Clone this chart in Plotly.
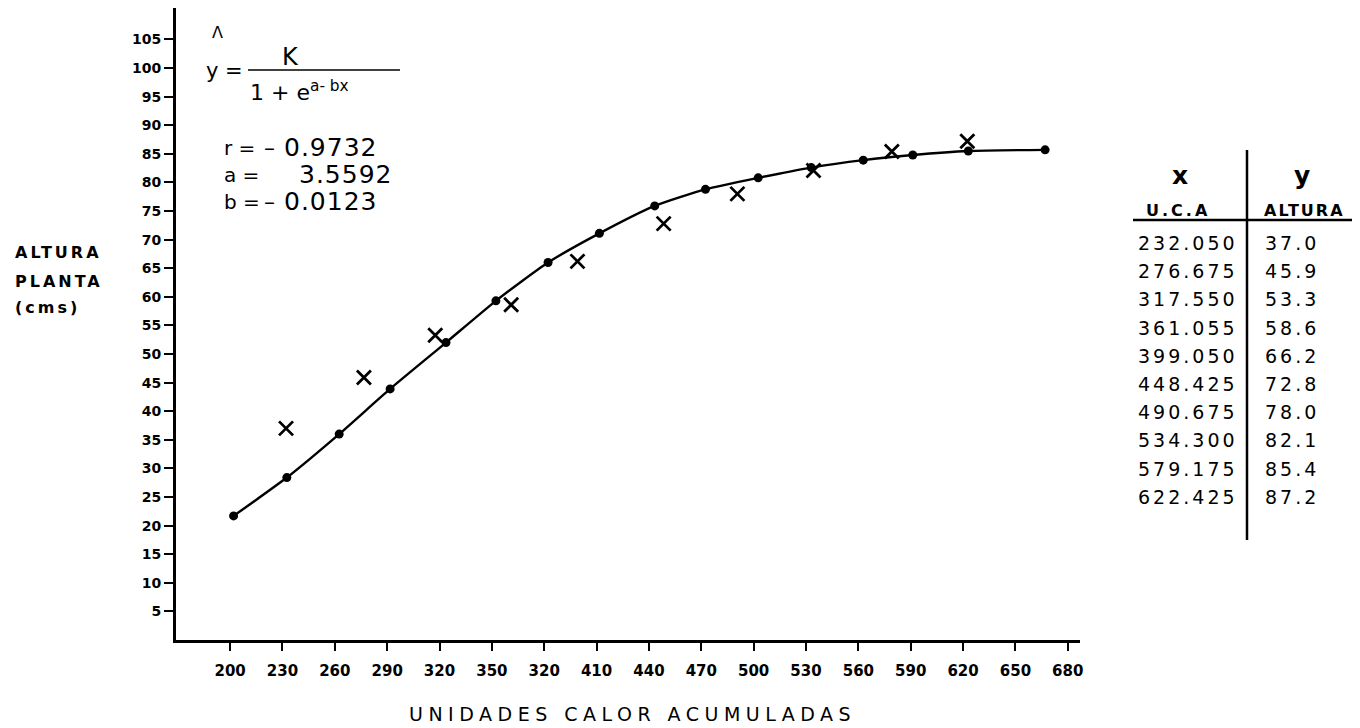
import plotly.graph_objects as go

# ---------------- data ----------------
# fitted logistic curve (dots on the line)
fit_x = [202.0, 232.5, 262.5, 291.7, 323.7, 352.3, 382.2, 411.6, 443.3, 472.4,
         502.6, 533.0, 562.8, 591.2, 623.0, 667.0]
fit_y = [21.7, 28.4, 36.0, 43.9, 52.0, 59.3, 66.0, 71.1, 75.9, 78.8,
         80.8, 82.6, 83.9, 84.8, 85.5, 85.7]

# observed values (crosses) = table at right
uca = [232.050, 276.675, 317.550, 361.055, 399.050, 448.425, 490.675, 534.300, 579.175, 622.425]
altura = [37.0, 45.9, 53.3, 58.6, 66.2, 72.8, 78.0, 82.1, 85.4, 87.2]

x_tickvals = [200, 230, 260, 290, 320, 350, 380, 410, 440, 470, 500, 530, 560, 590, 620, 650, 680]
x_ticktext = ["200", "230", "260", "290", "320", "350", "320", "410", "440", "470",
              "500", "530", "560", "590", "620", "650", "680"]
y_tickvals = [5, 10, 15, 20, 25, 30, 35, 40, 45, 50, 55, 60, 65, 70, 75, 80, 85, 90, 95, 100, 105]

stats_labels = ["r =", "a =", "b ="]
stats_signs = ["–", "", "–"]
stats_values = ["0.9732", "3.5592", "0.0123"]

# ---------------- layout helpers (screen pixels; page body has 8px margin) ----------------
OFF = 8
W, H = 1352, 720
L, R, T, B = 168, 280, 0, 88
PW, PH = W - L - R, H - T - B
FONT = "DejaVu Sans"


def fx(px):
    return (px - OFF - L) / PW


def fy(py):
    return (H - B - (py - OFF)) / PH


def sp(text, ls):
    return f'<span style="letter-spacing:{ls}px">{text}</span>'


fig = go.Figure()

fig.add_trace(go.Scatter(
    x=fit_x, y=fit_y, mode="lines+markers",
    line=dict(color="black", width=2.4, shape="spline", smoothing=0.6),
    marker=dict(color="black", size=9, symbol="circle"),
    showlegend=False, hoverinfo="skip"))

fig.add_trace(go.Scatter(
    x=uca, y=altura, mode="markers",
    marker=dict(symbol="x-thin", size=14, line=dict(color="black", width=2.8)),
    showlegend=False))

ann = []
shapes = []

# formula
ann.append(dict(text="Λ", x=fx(217), y=fy(33), font=dict(size=16)))
ann.append(dict(text="y =", x=fx(224), y=fy(71), font=dict(size=21)))
ann.append(dict(text="K", x=fx(290), y=fy(57), font=dict(size=24)))
ann.append(dict(text="1 + e<sup>a- bx</sup>", x=fx(248), y=fy(91), xanchor="left",
                font=dict(size=22)))
shapes.append(dict(type="line", xref="paper", yref="paper", x0=fx(248), x1=fx(400),
                   y0=fy(70), y1=fy(70), line=dict(color="black", width=1.5)))

stat_rows = [148, 175, 202]
for i, lab in enumerate(stats_labels):
    ann.append(dict(text=lab, x=fx(222), y=fy(stat_rows[i]), xanchor="left",
                    font=dict(size=20)))
    if stats_signs[i]:
        ann.append(dict(text=stats_signs[i], x=fx(269), y=fy(stat_rows[i]),
                        font=dict(size=22)))
    ann.append(dict(text=sp(stats_values[i], 1), x=fx(282 if stats_signs[i] else 297),
                    y=fy(stat_rows[i]), xanchor="left", font=dict(size=25)))

# y axis label
for txt, py in zip(["ALTURA", "PLANTA", "(cms)"], [253, 281, 307]):
    ann.append(dict(text=sp(txt, 3), x=fx(13), y=fy(py), xanchor="left",
                    font=dict(size=16, weight="bold")))

# x axis title
ann.append(dict(text=sp("UNIDADES CALOR ACUMULADAS", 5.5), x=fx(632), y=fy(714),
                font=dict(size=19)))

# table
ann.append(dict(text="x", x=fx(1180), y=fy(176), font=dict(size=25, weight="bold")))
ann.append(dict(text="y", x=fx(1302), y=fy(176), font=dict(size=25, weight="bold")))
ann.append(dict(text=sp("U.C.A", 3), x=fx(1178), y=fy(210),
                font=dict(size=16, weight="bold")))
ann.append(dict(text=sp("ALTURA", 2), x=fx(1262), y=fy(210), xanchor="left",
                font=dict(size=16, weight="bold")))
for i, (u, a) in enumerate(zip(uca, altura)):
    py = 243 + 28.2 * i
    ann.append(dict(text=sp(f"{u:.3f}", 3), x=fx(1240), y=fy(py), xanchor="right",
                    font=dict(size=19)))
    ann.append(dict(text=sp(f"{a:.1f}", 3), x=fx(1263), y=fy(py), xanchor="left",
                    font=dict(size=19)))
shapes.append(dict(type="line", xref="paper", yref="paper", x0=fx(1133), x1=fx(1360),
                   y0=fy(220), y1=fy(220), line=dict(color="black", width=2.5)))
shapes.append(dict(type="line", xref="paper", yref="paper", x0=fx(1247), x1=fx(1247),
                   y0=fy(150), y1=fy(540), line=dict(color="black", width=2.5)))

for a in ann:
    a.setdefault("xref", "paper")
    a.setdefault("yref", "paper")
    a.setdefault("showarrow", False)
    a.setdefault("xanchor", "center")
    a.setdefault("yanchor", "middle")
    f = a.setdefault("font", {})
    f.setdefault("family", FONT)
    f.setdefault("color", "black")

fig.update_layout(
    width=W, height=H,
    margin=dict(l=L, r=R, t=T, b=B, autoexpand=False),
    paper_bgcolor="white", plot_bgcolor="white",
    font=dict(family=FONT, color="black"),
    annotations=ann, shapes=shapes,
    xaxis=dict(range=[169, 687], tickvals=x_tickvals, ticktext=x_ticktext,
               showline=True, linewidth=3, linecolor="black", mirror=False,
               ticks="outside", ticklen=8, tickwidth=2, tickcolor="black",
               ticklabelstandoff=7,
               showgrid=False, zeroline=False,
               tickfont=dict(family=FONT, size=15, weight="bold", color="black")),
    yaxis=dict(range=[0, 110.5], tickvals=y_tickvals,
               showline=True, linewidth=3, linecolor="black",
               ticks="outside", ticklen=9, tickwidth=2, tickcolor="black",
               showgrid=False, zeroline=False,
               tickfont=dict(family=FONT, size=14, weight="bold", color="black")),
)

fig.write_html("out.html")
